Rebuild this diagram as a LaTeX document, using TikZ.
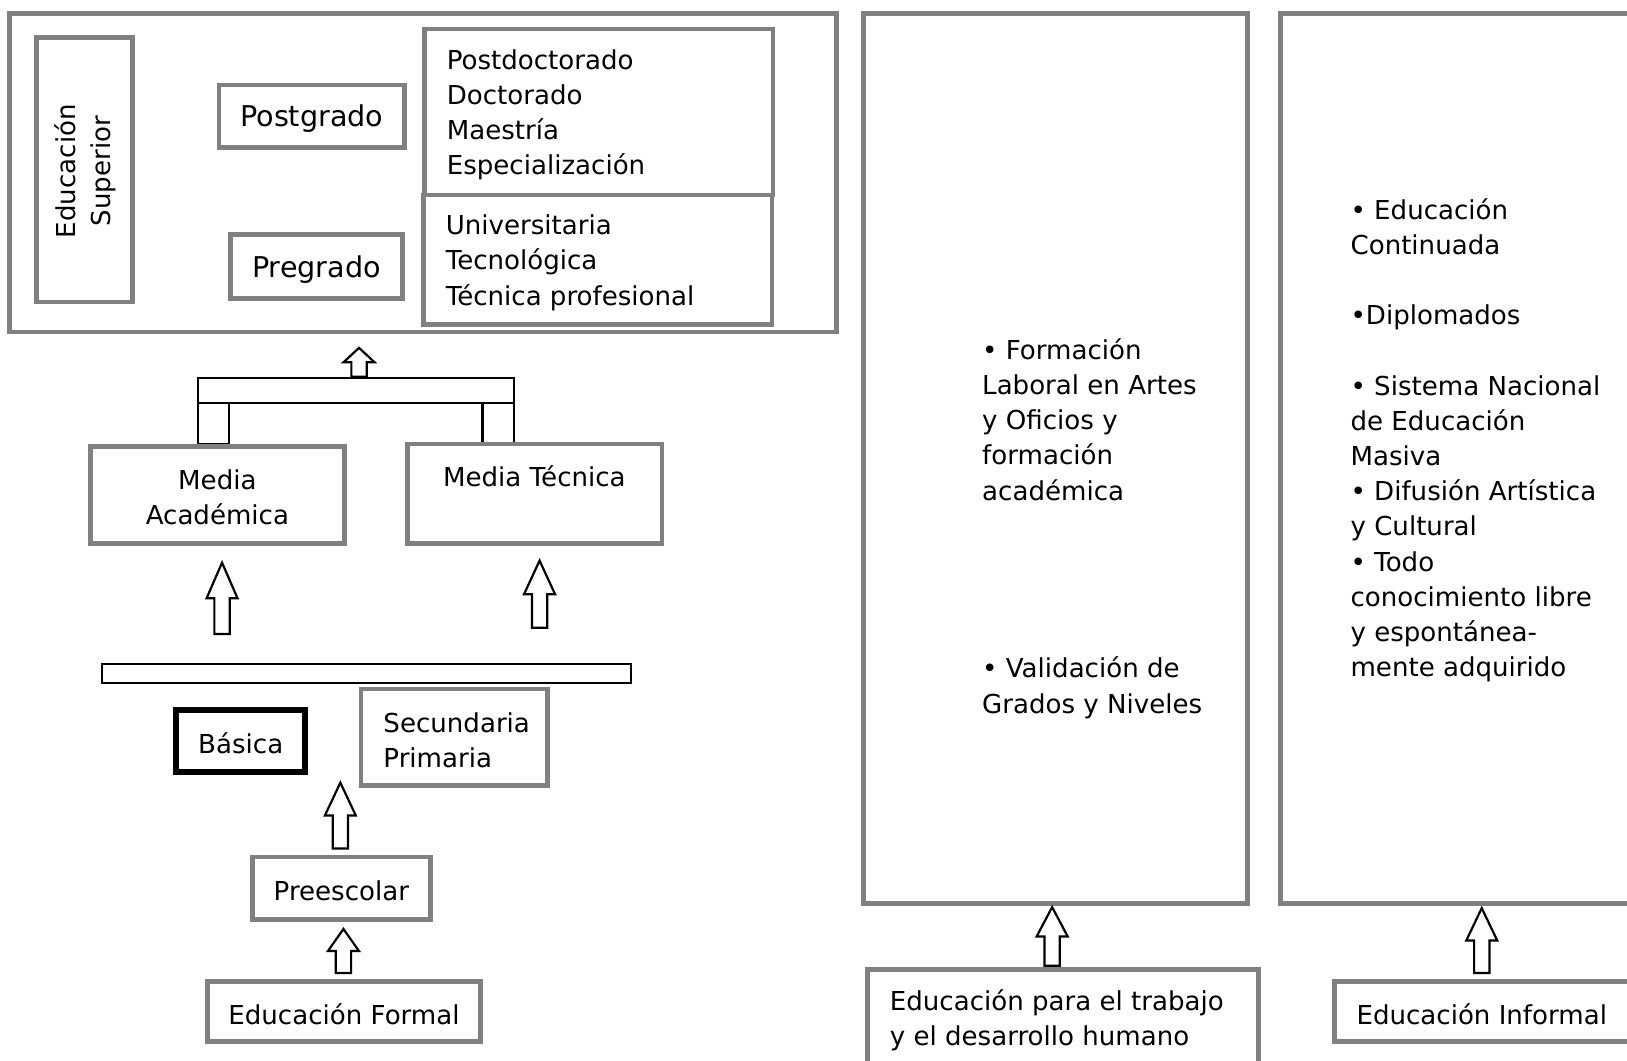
\documentclass[tikz,border=0pt]{standalone}
\usepackage{fontspec}
\setmainfont{DejaVu Sans}
\usetikzlibrary{calc}
\definecolor{boxgray}{HTML}{808080}
\begin{document}
\begin{tikzpicture}[x=0.02cm,y=0.02cm,
  gbox/.style={draw=boxgray, line width=2.6pt, fill=white, inner sep=0pt, rectangle},
  kbox/.style={draw=black, line width=1.2pt, fill=white, inner sep=0pt, rectangle},
  txt/.style={font=\fontsize{14.3}{19.3}\selectfont, inner sep=0pt, align=left, xshift=0.03cm, yshift=-0.055cm},
  ctxt/.style={font=\fontsize{14.3}{19.3}\selectfont, inner sep=0pt, align=center, yshift=-0.05cm},
  btxt/.style={font=\fontsize{15.7}{19.3}\selectfont, inner sep=0pt, yshift=-0.05cm},
  blockarrow/.style={draw=black, line width=1.2pt, fill=white, line join=miter,
    to path={let \p1=(\tikztostart), \p2=(\tikztotarget) in
      (\x1-4.2pt,\y1) -- (\x1-4.2pt,{(\y1+\y2)/2}) -- (\x1-8.5pt,{(\y1+\y2)/2}) -- (\x1,\y2)
      -- (\x1+8.5pt,{(\y1+\y2)/2}) -- (\x1+4.2pt,{(\y1+\y2)/2}) -- (\x1+4.2pt,\y1) -- cycle}}]
\useasboundingbox (0,0) rectangle (1568,-1022);
\clip (0,0) rectangle (1568,-1022);
\fill[white] (0,0) rectangle (1568,-1022);

% ---- Educacion Superior ----
\node[gbox, minimum width=15.94cm, minimum height=6.14cm] (es) at (407.5,-166.5) {};
\node[gbox, minimum width=1.86cm, minimum height=5.10cm] (esv) at (81.5,-163.5) {};
\node[ctxt, rotate=90, yshift=0.05cm, xshift=0.02cm] (esvt) at ($(esv.center)+(3,0)$) {Educación\\Superior};
\node[gbox, minimum width=3.58cm, minimum height=1.20cm] (posg) at (300.5,-112) {};
\node[btxt] (posgt) at (posg.center) {Postgrado};
\node[gbox, minimum width=3.32cm, minimum height=1.24cm] (preg) at (305,-257) {};
\node[btxt] (pregt) at (preg.center) {Pregrado};
\node[gbox, minimum width=6.72cm, minimum height=3.20cm] (plist) at (577,-108) {};
\node[txt, anchor=west] (plistt) at ($(plist.west)+(22,0)$) {Postdoctorado\\Doctorado\\Maestría\\Especialización};
\node[gbox, minimum width=6.72cm, minimum height=2.50cm] (ulist) at (576,-250.5) {};
\node[txt, anchor=west] (ulistt) at ($(ulist.west)+(22,0)$) {Universitaria\\Tecnológica\\Técnica profesional};

% ---- Media ----
\node[kbox, minimum width=6.08cm, minimum height=0.48cm] (bridge) at (343,-376) {};
\node[kbox, minimum width=0.60cm, minimum height=0.80cm] (legl) at (206,-408) {};
\node[kbox, minimum width=0.60cm, minimum height=0.80cm] (legr) at (480,-408) {};
\node[gbox, minimum width=4.90cm, minimum height=1.88cm] (mac) at (209.5,-477) {};
\node[ctxt] (mact) at ($(mac.center)+(0,0)$) {Media\\Académica};
\node[gbox, minimum width=4.90cm, minimum height=1.92cm] (mtec) at (515.5,-476) {};
\node[ctxt] (mtect) at ($(mtec.north)+(-0.5,-31)$) {Media Técnica};

% ---- Basica ----
\node[kbox, minimum width=10.20cm, minimum height=0.36cm] (bar2) at (353,-649) {};
\node[kbox, line width=3.2pt, minimum width=2.48cm, minimum height=1.20cm] (bas) at (232,-714) {};
\node[ctxt] (bast) at (bas.center) {Básica};
\node[gbox, minimum width=3.60cm, minimum height=1.86cm] (secp) at (438,-710.5) {};
\node[txt, anchor=west] (secpt) at ($(secp.west)+(22,0)$) {Secundaria\\Primaria};
\node[gbox, minimum width=3.44cm, minimum height=1.20cm] (pre) at (329,-856) {};
\node[ctxt] (pret) at (pre.center) {Preescolar};
\node[gbox, minimum width=5.26cm, minimum height=1.16cm] (ef) at (331.5,-975) {};
\node[ctxt] (eft) at (ef.center) {Educación Formal};

% ---- Trabajo ----
\node[gbox, minimum width=7.40cm, minimum height=17.16cm] (b1) at (1017,-442) {};
\node[txt, anchor=west] (b1a) at ($(b1.west)+(115,40.5)$) {• Formación\\Laboral en Artes\\y Oficios y\\formación\\académica};
\node[txt, anchor=west] (b1b) at ($(b1.west)+(115,-218)$) {• Validación de\\Grados y Niveles};
\node[gbox, minimum width=7.54cm, minimum height=2.12cm] (trab) at (1024.5,-987) {};
\node[txt, anchor=west] (trabt) at ($(trab.west)+(22,6.5)$) {Educación para el trabajo\\y el desarrollo humano};

% ---- Informal ----
\node[gbox, minimum width=7.32cm, minimum height=17.16cm] (b2) at (1417,-442) {};
\node[txt, anchor=west] (b2t) at ($(b2.west)+(68,20.5)$) {• Educación\\Continuada\\[19.3pt]•Diplomados\\[19.3pt]• Sistema Nacional\\de Educación\\Masiva\\• Difusión Artística\\y Cultural\\• Todo\\conocimiento libre\\y espontánea-\\mente adquirido};
\node[gbox, minimum width=6.28cm, minimum height=1.16cm] (inf) at (1443,-975) {};
\node[ctxt] (inft) at ($(inf.center)+(-15,0)$) {Educación Informal};

% ---- block arrows ----
\draw[blockarrow] ($(bridge.north)+(3,0)$) to ($(es.south -| bridge.north)+(3,-13)$);
\draw[blockarrow] ($(bar2.north -| mac.south)+(4.5,28)$) to ($(mac.south)+(4.5,-16)$);
\draw[blockarrow] ($(bar2.north -| mtec.south)+(4.5,34)$) to ($(mtec.south)+(4.5,-14)$);
\coordinate (bastip) at ($(secp.south -| pre.north)+(-1,5)$);
\draw[blockarrow] ($(pre.north)+(-1,6)$) to (bastip);
\draw[blockarrow] ($(ef.north)+(-0.5,6)$) to ($(pre.south -| ef.north)+(-0.5,-7)$);
\draw[blockarrow] ($(trab.north)+(-10.5,1)$) to ($(b1.south -| trab.north)+(-10.5,-1)$);
\draw[blockarrow] ($(inf.north)+(-15,6)$) to ($(b2.south -| inf.north)+(-15,-2)$);
\end{tikzpicture}
\end{document}
